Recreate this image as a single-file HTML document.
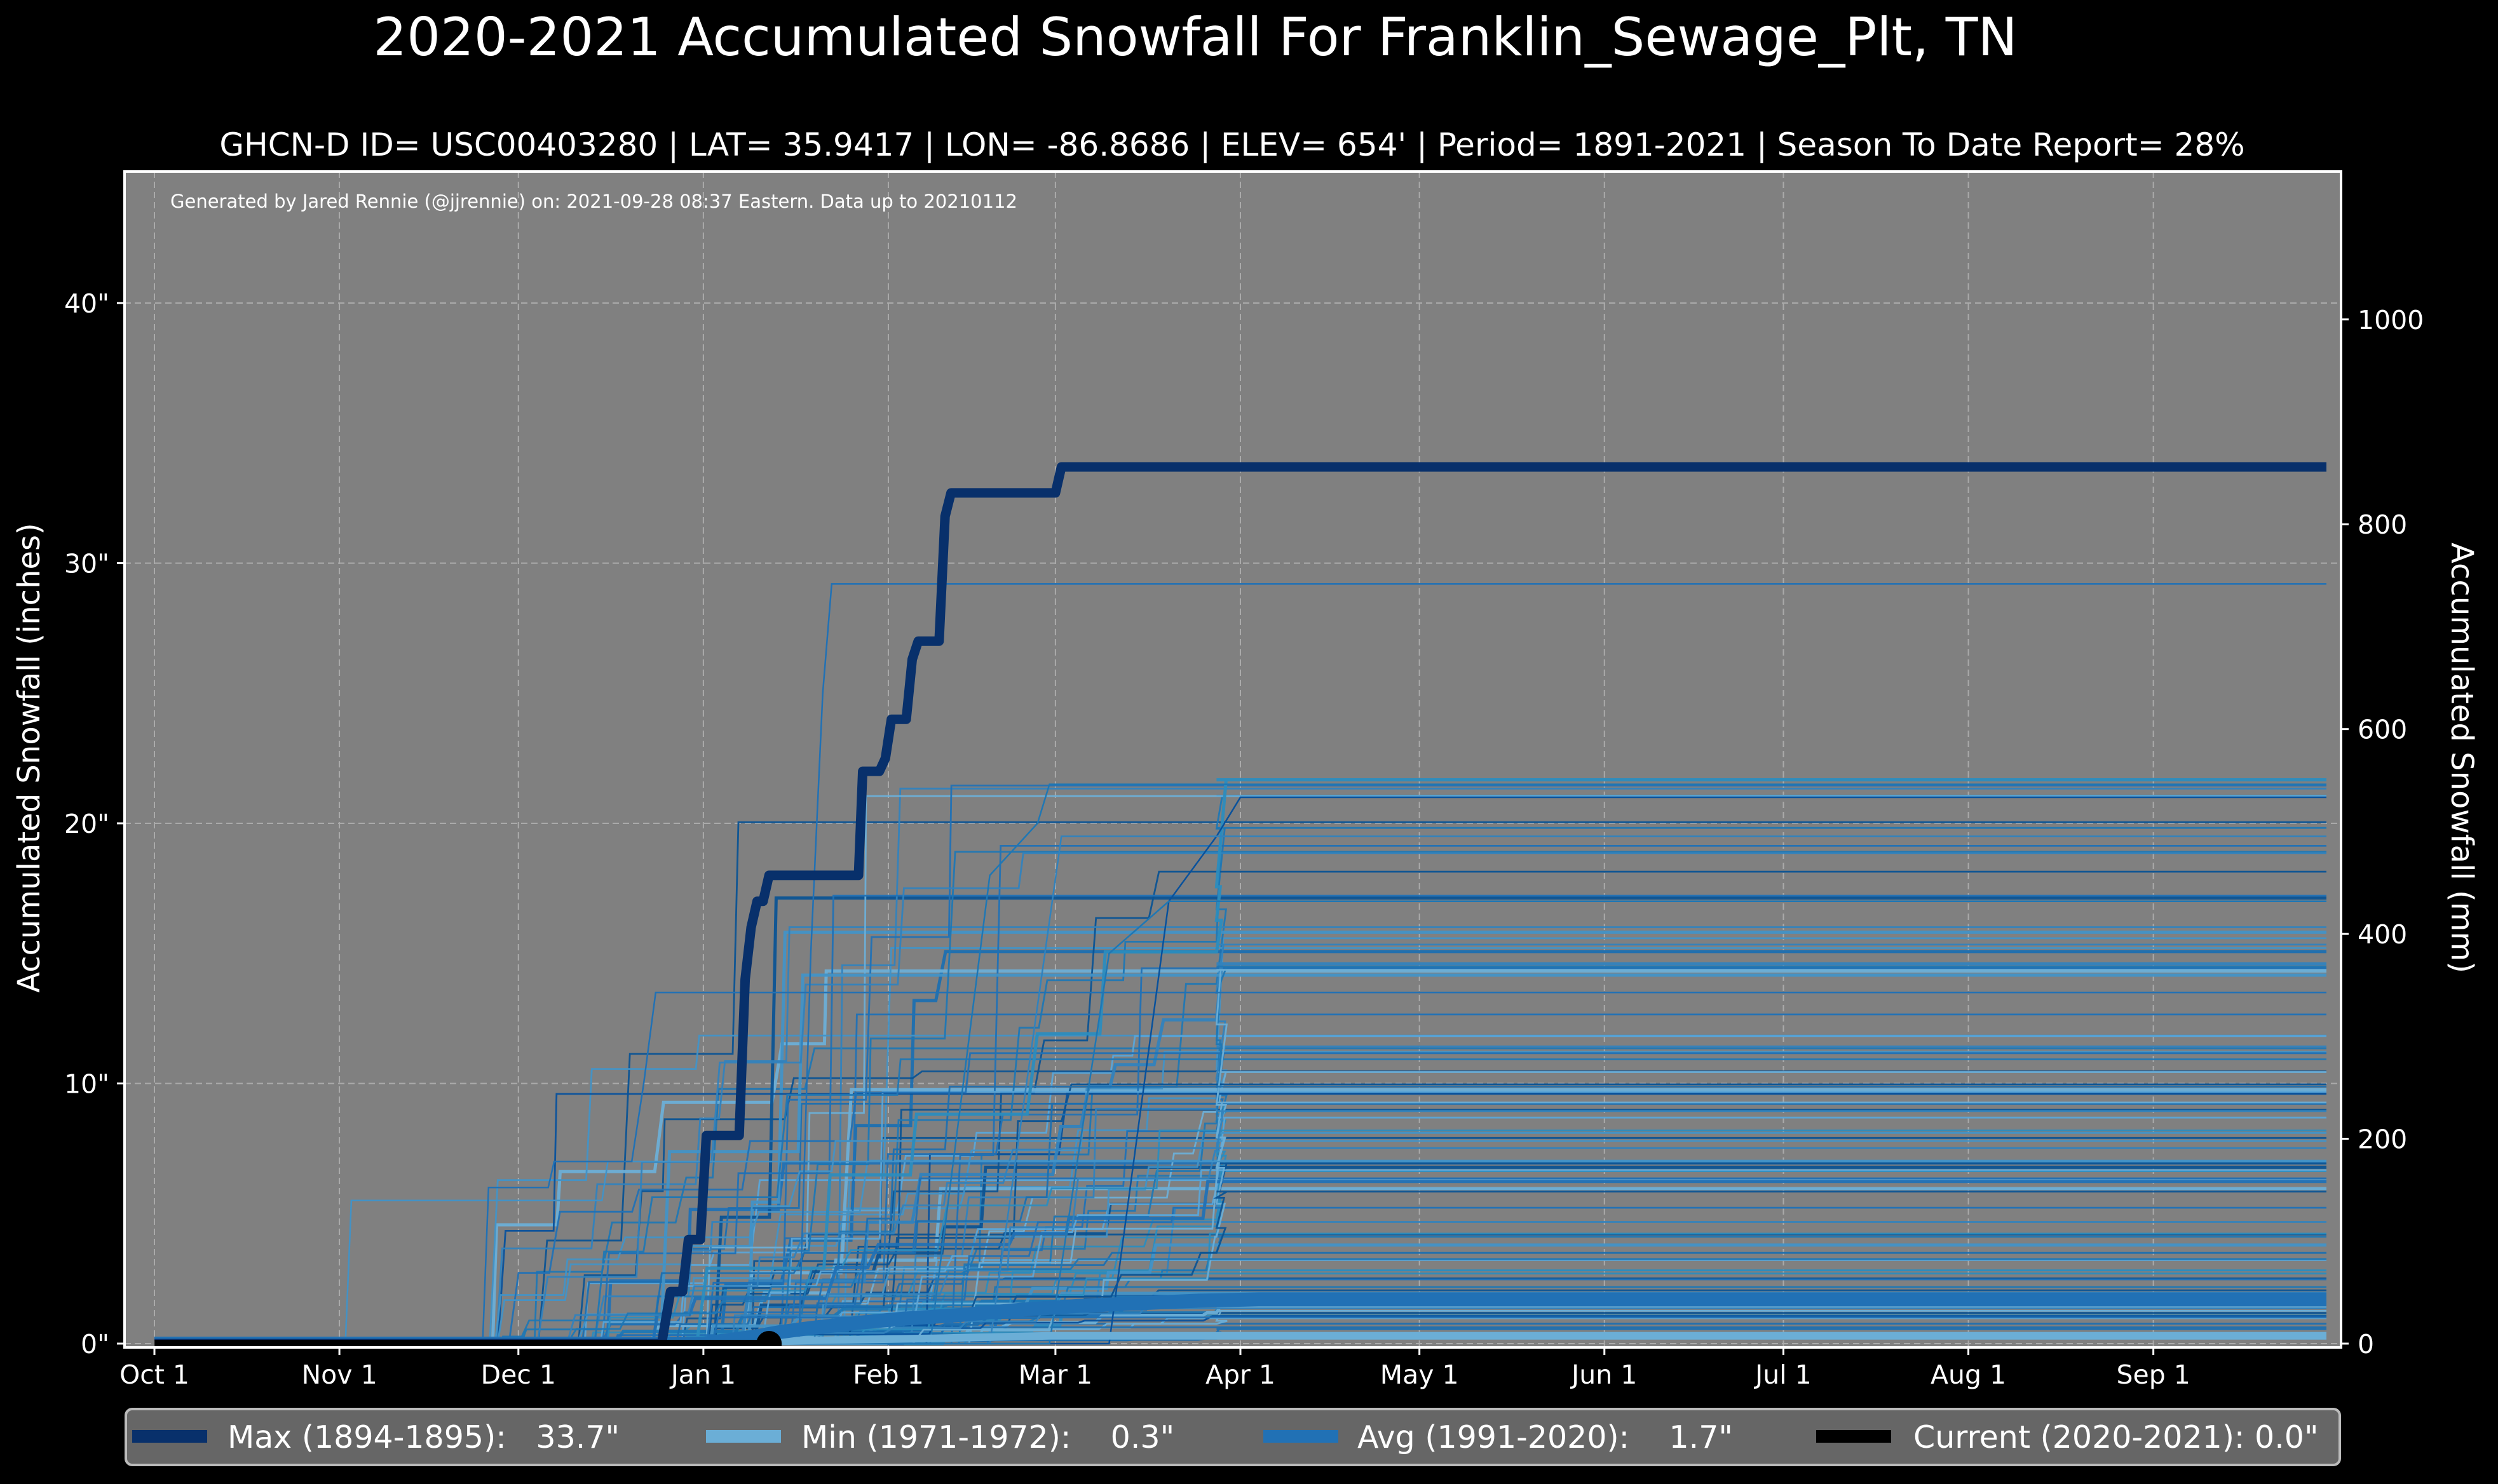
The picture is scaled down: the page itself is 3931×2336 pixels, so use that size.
<!DOCTYPE html>
<html><head><meta charset="utf-8">
<style>
html,body{margin:0;padding:0;background:#000;}
svg{display:block;font-family:"DejaVu Sans","Liberation Sans",sans-serif;}
</style></head>
<body>
<svg id="s" width="3931" height="2336" viewBox="0 0 3931 2336" xmlns="http://www.w3.org/2000/svg">
<rect width="3931" height="2336" fill="#000"/>
<text x="1881" y="87" fill="#fff" font-size="83" text-anchor="middle">2020-2021 Accumulated Snowfall For Franklin_Sewage_Plt, TN</text>
<text x="1939" y="245" fill="#fff" font-size="50" text-anchor="middle">GHCN-D ID= USC00403280 | LAT= 35.9417 | LON= -86.8686 | ELEV= 654' | Period= 1891-2021 | Season To Date Report= 28%</text>
<defs><clipPath id="cp"><rect x="196" y="270" width="3488" height="1851"/></clipPath></defs>
<rect x="196" y="270" width="3488" height="1851" fill="#808080"/>
<g id="grid" stroke="#bdbdbd" stroke-width="2" stroke-dasharray="10,6" opacity="0.7"></g>
<text x="268" y="327" fill="#fff" font-size="29">Generated by Jared Rennie (@jjrennie) on: 2021-09-28 08:37 Eastern. Data up to 20210112</text>
<g id="data" clip-path="url(#cp)"></g>
<rect x="196" y="270" width="3488" height="1851" fill="none" stroke="#fff" stroke-width="4"/>
<g id="ticks" fill="#fff" font-size="41"></g>
<text transform="translate(62,1193) rotate(-90)" fill="#fff" font-size="48" text-anchor="middle">Accumulated Snowfall (inches)</text>
<text transform="translate(3858,1193) rotate(90)" fill="#fff" font-size="48" text-anchor="middle">Accumulated Snowfall (mm)</text>
<rect x="198" y="2218" width="3484" height="88" rx="10" fill="#666" stroke="#bbb" stroke-width="4"/>
<g font-size="49" fill="#fff">
<rect x="208" y="2251" width="118" height="20" fill="#08306b"/>
<text x="358" y="2279" xml:space="preserve">Max (1894-1895):   33.7"</text>
<rect x="1111" y="2251" width="118" height="20" fill="#6baed6"/>
<text x="1261" y="2279" xml:space="preserve">Min (1971-1972):    0.3"</text>
<rect x="1988" y="2251" width="118" height="20" fill="#2171b5"/>
<text x="2136" y="2279" xml:space="preserve">Avg (1991-2020):    1.7"</text>
<rect x="2858" y="2251" width="118" height="20" fill="#000"/>
<text x="3011" y="2279" xml:space="preserve">Current (2020-2021): 0.0"</text>
</g>
</svg>
<script>
var NS="http://www.w3.org/2000/svg";
function X(d){return 243+d*9.39;}
function Y(v){return 2115-40.95*v;}
function el(tag,attrs,parent,txt){var e=document.createElementNS(NS,tag);for(var k in attrs)e.setAttribute(k,attrs[k]);if(txt!==undefined)e.textContent=txt;parent.appendChild(e);return e;}
var grid=document.getElementById('grid'),ticks=document.getElementById('ticks'),data=document.getElementById('data');
var months=[["Oct 1",0],["Nov 1",31],["Dec 1",61],["Jan 1",92],["Feb 1",123],["Mar 1",151],["Apr 1",182],["May 1",212],["Jun 1",243],["Jul 1",273],["Aug 1",304],["Sep 1",335]];
months.forEach(function(m){var x=X(m[1]);el('line',{x1:x,x2:x,y1:270,y2:2121},grid);el('line',{x1:x,x2:x,y1:2121,y2:2133,stroke:'#fff','stroke-width':3},ticks);el('text',{x:x,y:2178,'text-anchor':'middle'},ticks,m[0]);});
for(var v=0;v<=40;v+=10){var y=Y(v);el('line',{x1:196,x2:3684,y1:y,y2:y},grid);el('line',{x1:184,x2:196,y1:y,y2:y,stroke:'#fff','stroke-width':3},ticks);el('text',{x:172,y:y+15,'text-anchor':'end'},ticks,v+'"');}
for(var mm=0;mm<=1000;mm+=200){var y=Y(mm/25.4);el('line',{x1:3684,x2:3696,y1:y,y2:y,stroke:'#fff','stroke-width':3},ticks);el('text',{x:3710,y:y+15},ticks,String(mm));}
var seed=777;function r(){seed=(seed*1103515245+12345)%2147483648;return seed/2147483648;}
var cols=["#1f77b4","#2171b5","#4292c6","#6baed6","#3182bd","#08519c","#1c6fb0","#5aa5d8","#2b8cbe","#0b5394"];
function stepPath(pts){var d="M"+X(pts[0][0]).toFixed(1)+","+Y(pts[0][1]).toFixed(1);for(var i=1;i<pts.length;i++)d+="L"+X(pts[i][0]).toFixed(1)+","+Y(pts[i][1]).toFixed(1);return d;}
for(var i=0;i<110;i++){
 var u=r();var fin;
 if(u<0.2)fin=r()*2;else if(u<0.65)fin=2+r()*8;else if(u<0.9)fin=8+r()*8;else fin=14+r()*8;
 var n=2+Math.floor(r()*7);var start=55+r()*85;var pts=[[0,0],[start,0]];var acc=0;var d=start;
 for(var k=0;k<n;k++){var inc=fin/n*(0.4+r()*1.2);if(k==n-1)inc=fin-acc;if(inc<0)inc=0;var ramp=0.3+r()*1.5;acc+=inc;pts.push([d+ramp,acc]);d+=ramp+3+r()*20;if(d>178)d=178;pts.push([d,acc]);}
 pts.push([364,acc]);
 var w=r()<0.15?5:2.8;
 el('path',{d:stepPath(pts),fill:'none',stroke:cols[Math.floor(r()*cols.length)],'stroke-width':w,opacity:0.95},data);
}
el('path',{d:stepPath([[0,0],[32,0],[33,5.5],[75,5.5],[76,7],[364,7]]),fill:'none',stroke:'#4292c6','stroke-width':2.5},data);
el('path',{d:stepPath([[0,0],[55,0],[56,6],[66,6],[67,7],[80,7],[82,10],[84,13.5],[364,13.5]]),fill:'none',stroke:'#2171b5','stroke-width':2.5},data);
el('path',{d:stepPath([[0,0],[108,0],[110,15],[112,25],[113.5,29.2],[364,29.2]]),fill:'none',stroke:'#2171b5','stroke-width':2.5},data);
el('path',{d:stepPath([[0,0],[130,0],[140,18],[148,20],[150,21.5],[364,21.5]]),fill:'none',stroke:'#1f77b4','stroke-width':2.5},data);
el('path',{d:stepPath([[0,0],[160,0],[170,17],[178,19.5],[182,21],[364,21]]),fill:'none',stroke:'#08519c','stroke-width':2.5},data);
el('path',{d:stepPath([[0,0],[140,0],[152,19.5],[364,19.5]]),fill:'none',stroke:'#3182bd','stroke-width':2.5},data);
el('path',{d:stepPath([[0,0],[150,0],[160,15],[170,17],[364,17]]),fill:'none',stroke:'#1f77b4','stroke-width':2.5},data);
el('path',{d:stepPath([[0,0],[103,0],[104,0.1],[130,0.2],[150,0.3],[364,0.3]]),fill:'none',stroke:'#6baed6','stroke-width':12},data);
el('path',{d:stepPath([[0,0],[92,0],[95,0.1],[100,0.25],[105,0.45],[110,0.6],[118,0.8],[125,0.95],[135,1.1],[145,1.3],[155,1.45],[165,1.55],[175,1.65],[185,1.7],[364,1.7]]),fill:'none',stroke:'#2171b5','stroke-width':22},data);
el('path',{d:stepPath([[0,0],[85,0],[86.5,2],[88.5,2],[89.5,4],[91.5,4],[92.5,8],[98,8],[99,14],[100,16],[101,17],[102,17],[103,18],[118,18],[118.7,22],[121.5,22],[122.5,22.5],[123.5,24],[126,24],[127,26.3],[128,27],[131.5,27],[132.5,31.8],[133.5,32.7],[151,32.7],[152,33.7],[364,33.7]]),fill:'none',stroke:'#08306b','stroke-width':15,'stroke-linejoin':'round'},data);
el('path',{d:stepPath([[0,0],[103,0]]),fill:'none',stroke:'#000','stroke-width':12},data);
el('circle',{cx:X(103),cy:Y(0),r:20,fill:'#000'},data);
</script>
</body></html>
